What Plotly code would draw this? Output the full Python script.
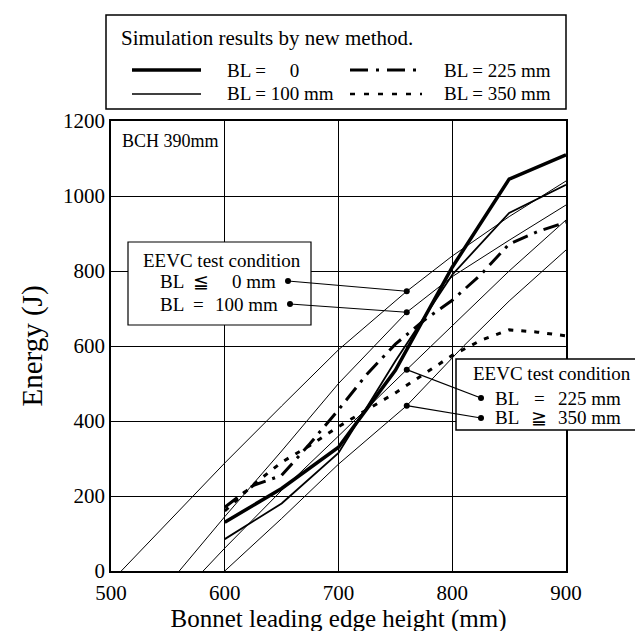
import plotly.graph_objects as go

FONT = "Liberation Serif"

# ---- simulation results (new method) ----
x_bl0 = [600, 650, 700, 750, 800, 850, 900]
e_bl0 = [130, 220, 330, 535, 810, 1045, 1110]
x_bl100 = [600, 650, 700, 750, 800, 850, 900]
e_bl100 = [85, 180, 315, 560, 790, 955, 1030]
x_bl225 = [600, 625, 650, 675, 700, 725, 750, 775, 800, 825, 850, 875, 900]
e_bl225 = [170, 228, 255, 340, 430, 525, 605, 668, 722, 790, 872, 905, 930]
x_bl350 = [600, 625, 650, 675, 700, 725, 750, 775, 800, 825, 850, 875, 900]
e_bl350 = [160, 230, 290, 335, 385, 430, 475, 525, 575, 615, 643, 637, 627]

# ---- EEVC test condition curves ----
x_ee0 = [509, 550, 600, 650, 700, 760, 800, 850, 900]
e_ee0 = [0, 130, 288, 440, 590, 746, 840, 945, 1040]
x_ee100 = [560, 600, 650, 700, 760, 800, 850, 900]
e_ee100 = [0, 145, 320, 500, 690, 785, 882, 976]
x_ee225 = [581, 600, 650, 700, 760, 800, 850, 900]
e_ee225 = [0, 61, 215, 360, 537, 655, 800, 936]
x_ee350 = [600, 650, 700, 760, 810, 850, 900]
e_ee350 = [0, 140, 285, 441, 600, 720, 856]

x_ticks = [500, 600, 700, 800, 900]
y_ticks = [0, 200, 400, 600, 800, 1000, 1200]
x_mark = 760  # where the EEVC labels point

# plot-area geometry (pixels) used for placing the decorations
W, H = 643, 631
L, R, T, B = 103, 85, 113, 68
PW, PH = W - L - R, H - T - B


def px(xp):
    return (xp - L) / PW


def py(yp):
    return (H - B - yp) / PH


def dx(xp):
    return 500 + (xp - L) / PW * 400


def dy(yp):
    return (H - B - yp) / PH * 1200


fig = go.Figure()
thin = dict(color="black", width=1)
for xs, ys in [(x_ee0, e_ee0), (x_ee100, e_ee100), (x_ee225, e_ee225), (x_ee350, e_ee350)]:
    fig.add_trace(go.Scatter(x=xs, y=ys, mode="lines", line=thin, showlegend=False, hoverinfo="skip"))

fig.add_trace(go.Scatter(x=x_bl100, y=e_bl100, mode="lines", line=dict(color="black", width=1.8), showlegend=False))
fig.add_trace(go.Scatter(x=x_bl350, y=e_bl350, mode="lines", line=dict(color="black", width=3, dash="5px,8px"), showlegend=False))
fig.add_trace(go.Scatter(x=x_bl225, y=e_bl225, mode="lines", line=dict(color="black", width=3, dash="16px,7px,3px,7px"), showlegend=False))
fig.add_trace(go.Scatter(x=x_bl0, y=e_bl0, mode="lines", line=dict(color="black", width=3.5), showlegend=False))

# marker dots on the EEVC curves
mark_vals = [
    e_ee0[x_ee0.index(x_mark)],
    e_ee100[x_ee100.index(x_mark)],
    e_ee225[x_ee225.index(x_mark)],
    e_ee350[x_ee350.index(x_mark)],
]
fig.add_trace(go.Scatter(x=[x_mark] * 4, y=mark_vals, mode="markers",
                         marker=dict(color="black", size=6), showlegend=False))

shapes = []
annos = []


def dot(x, y, xref, yref, r=3):
    shapes.append(dict(type="circle", xref=xref, yref=yref, xsizemode="pixel", ysizemode="pixel",
                       xanchor=x, yanchor=y, x0=-r, x1=r, y0=-r, y1=r,
                       fillcolor="black", line=dict(width=0), layer="above"))


def text(t, xp, yp, anchor="left", size=19):
    annos.append(dict(text=t, xref="paper", yref="paper", x=px(xp), y=py(yp), xanchor=anchor,
                      yanchor="middle", showarrow=False, font=dict(family=FONT, size=size, color="black")))


# ---- legend box (top) ----
shapes.append(dict(type="rect", xref="paper", yref="paper", x0=px(98), x1=px(558), y0=py(101), y1=py(7),
                   line=dict(color="black", width=1.5), fillcolor="white", layer="above"))
text("Simulation results by new method.", 111, 30, size=21)
row1, row2 = 62, 86
shapes.append(dict(type="line", xref="paper", yref="paper", x0=px(124), x1=px(193), y0=py(row1), y1=py(row1),
                   line=dict(color="black", width=3.5), layer="above"))
shapes.append(dict(type="line", xref="paper", yref="paper", x0=px(124), x1=px(193), y0=py(row2), y1=py(row2),
                   line=dict(color="black", width=1.5), layer="above"))
shapes.append(dict(type="line", xref="paper", yref="paper", x0=px(342), x1=px(410), y0=py(row1), y1=py(row1),
                   line=dict(color="black", width=3, dash="18px,8px,3px,8px"), layer="above"))
shapes.append(dict(type="line", xref="paper", yref="paper", x0=px(342), x1=px(414), y0=py(row2), y1=py(row2),
                   line=dict(color="black", width=2.5, dash="5px,9px"), layer="above"))
text("BL =     0", 217, row1)
text("BL = 100 mm", 217, row2)
text("BL = 225 mm", 434, row1)
text("BL = 350 mm", 434, row2)

# ---- left EEVC box ----
shapes.append(dict(type="rect", xref="paper", yref="paper", x0=px(120), x1=px(303), y0=py(317), y1=py(234),
                   line=dict(color="black", width=1.2), fillcolor="white", layer="above"))
text("EEVC test condition", 214, 252, anchor="center")
text("BL  ≦", 150, 273)
text("0 mm", 270, 273, anchor="right")
text("BL  =", 150, 296)
text("100 mm", 272, 296, anchor="right")
for (tx, ty), yv in zip([(280, 273), (282, 296)], mark_vals[:2]):
    shapes.append(dict(type="line", xref="x", yref="y", x0=dx(tx), y0=dy(ty), x1=x_mark, y1=yv,
                       line=dict(color="black", width=1.2), layer="above"))
    dot(dx(tx), dy(ty), "x", "y")

# ---- right EEVC box ----
shapes.append(dict(type="rect", xref="paper", yref="paper", x0=px(448), x1=px(640), y0=py(422), y1=py(351),
                   line=dict(color="black", width=1.5), fillcolor="white", layer="above"))
text("EEVC test condition", 544, 365, anchor="center")
text("BL", 485, 390)
text("=", 531, 390, anchor="center")
text("225 mm", 548, 390)
text("BL", 485, 410)
text("≧", 531, 410, anchor="center")
text("350 mm", 548, 410)
for (tx, ty), yv in zip([(473, 390), (473, 410)], mark_vals[2:]):
    shapes.append(dict(type="line", xref="paper", yref="paper", x0=px(tx), y0=py(ty),
                       x1=(x_mark - 500) / 400, y1=yv / 1200,
                       line=dict(color="black", width=1.2), layer="above"))
    dot(px(tx), py(ty), "paper", "paper")

# BCH label
text("BCH 390mm", 112, 133, size=18)

axis_common = dict(showgrid=True, gridcolor="black", gridwidth=1, showline=True, linecolor="black",
                   linewidth=1.5, mirror=True, ticks="", ticklen=0, zeroline=False,
                   tickfont=dict(family=FONT, size=21, color="black"))

fig.update_layout(
    width=W, height=H,
    margin=dict(l=L, r=R, t=T, b=B),
    paper_bgcolor="white", plot_bgcolor="white",
    showlegend=False,
    shapes=shapes, annotations=annos,
    xaxis=dict(range=[500, 900], tickvals=x_ticks, automargin=False, ticklabelstandoff=2,
               title=dict(text="Bonnet leading edge height (mm)", font=dict(family=FONT, size=25, color="black"),
                          standoff=0),
               **axis_common),
    yaxis=dict(range=[0, 1200], tickvals=y_ticks, automargin=False,
               title=dict(text="Energy (J)", font=dict(family=FONT, size=29, color="black"), standoff=12),
               **axis_common),
)

fig.write_html("out.html")
